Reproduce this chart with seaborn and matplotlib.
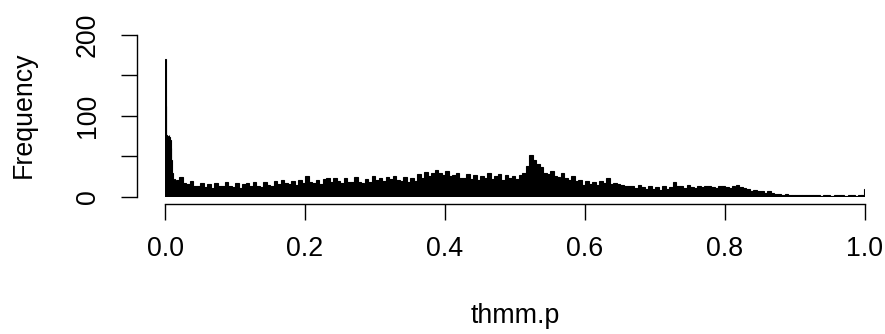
import numpy as np
import matplotlib
matplotlib.use("Agg")
import matplotlib.pyplot as plt
import seaborn as sns

# bin edges: fine bins next to 0, then 0.005 wide bins, a thin bin at 1.0
fine_edges = [0.000, 0.001, 0.002, 0.003, 0.004, 0.005, 0.006, 0.007, 0.008,
              0.009, 0.010, 0.011, 0.012, 0.013, 0.014, 0.015]
fine_counts = [170, 112, 76, 75, 72, 76, 74, 70, 60, 46, 30, 20, 18, 22, 19]

# counts per 0.005 bin from 0.015 to 0.995
coarse_counts = [
    21, 25, 17, 16, 20, 14, 13, 17, 12, 16,
    11, 17, 13, 14, 18, 14, 12, 17, 11, 16,
    17, 13, 18, 14, 12, 19, 15, 14, 20, 16,
    21, 17, 16, 20, 15, 21, 17, 26, 18, 17,
    21, 16, 22, 24, 18, 23, 20, 17, 23, 19,
    18, 25, 19, 17, 22, 18, 26, 21, 24, 20,
    25, 22, 26, 21, 20, 25, 19, 23, 20, 28,
    24, 31, 26, 30, 33, 29, 27, 32, 26, 27,
    29, 24, 23, 28, 22, 27, 21, 26, 23, 29,
    22, 26, 28, 21, 27, 23, 26, 22, 27, 29,
    38, 52, 45, 41, 37, 30, 28, 32, 26, 25,
    29, 23, 21, 26, 20, 21, 15, 20, 16, 19,
    15, 20, 17, 23, 16, 17, 16, 15, 13, 14,
    13, 11, 15, 12, 10, 13, 10, 12, 9, 13,
    10, 12, 19, 13, 14, 11, 15, 12, 11, 14,
    12, 13, 14, 12, 11, 13, 14, 12, 11, 14,
    15, 12, 11, 10, 8, 9, 7, 7, 5, 7,
    5, 4, 4, 3, 4, 3, 3, 2, 3, 2,
    2, 2, 3, 2, 1, 2, 2, 1, 2, 2,
    2, 1, 2, 2, 1, 3,
]
tail_edges = [0.995, 0.998, 1.000]
tail_counts = [2, 10]

y_ticks = [0, 50, 100, 150, 200]
y_ticklabels = ["0", "", "100", "", "200"]
x_ticks = [0.0, 0.2, 0.4, 0.6, 0.8, 1.0]
x_ticklabels = ["0.0", "0.2", "0.4", "0.6", "0.8", "1.0"]

coarse_edges = list(np.round(np.arange(0.015, 0.9951, 0.005), 3))
edges = fine_edges[:-1] + coarse_edges[:-1] + tail_edges
counts = fine_counts + coarse_counts + tail_counts
centers = [(a + b) / 2 for a, b in zip(edges[:-1], edges[1:])]

sns.set_style("ticks")
plt.rcParams["font.family"] = ["Liberation Sans", "DejaVu Sans"]
plt.rcParams["text.color"] = "black"
plt.rcParams["axes.labelcolor"] = "black"

fig = plt.figure(figsize=(8.85, 3.34), dpi=100)
ax = fig.add_axes([165 / 885, (334 - 197) / 334, 700 / 885, 162.4 / 334])

sns.histplot(x=centers, weights=counts, bins=edges, color="black",
             edgecolor="black", linewidth=0.8, alpha=1, ax=ax)

ax.set_xlim(0, 1)
ax.set_ylim(0, 200)
for side in ["top", "right"]:
    ax.spines[side].set_visible(False)
ax.spines["left"].set_position(("outward", 19.9))
ax.spines["bottom"].set_position(("outward", 4.7))
ax.spines["left"].set_bounds(0, 200)
ax.spines["bottom"].set_bounds(0, 1)
for side in ["left", "bottom"]:
    ax.spines[side].set_linewidth(1.0)
    ax.spines[side].set_color("black")

ax.set_yticks(y_ticks)
ax.set_yticklabels(y_ticklabels, rotation=90, va="center")
ax.set_xticks(x_ticks)
ax.set_xticklabels(x_ticklabels)
ax.tick_params(axis="both", direction="out", length=11.5, width=1.0,
               color="black", labelsize=19.3, labelcolor="black")
ax.tick_params(axis="y", pad=15)
ax.tick_params(axis="x", pad=12)

ax.set_ylabel("Frequency", fontsize=19.3, color="black")
ax.set_xlabel("thmm.p", fontsize=19.3, color="black")
ax.yaxis.set_label_coords(-0.183, 0.505)
ax.xaxis.set_label_coords(0.5, -0.655)

fig.savefig("out.png", dpi=100)
